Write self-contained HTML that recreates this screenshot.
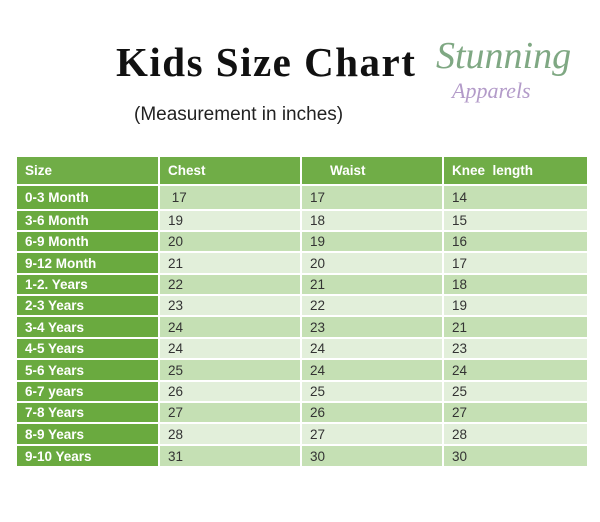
<!DOCTYPE html>
<html><head><style>
body{margin:0;width:600px;height:522px;background:#fff;position:relative;font-family:"Liberation Sans",sans-serif;overflow:hidden}
.t{position:absolute;left:116px;top:38px;font-family:"Liberation Serif",serif;font-size:41px;font-weight:bold;color:#111;letter-spacing:1.5px}
.s{position:absolute;left:134px;top:104px;font-size:19px;color:#222}
.l1{position:absolute;left:436px;top:34px;font-family:"Liberation Serif",serif;font-style:italic;font-size:38px;color:#7fa883}
.l2{position:absolute;left:452px;top:78px;font-family:"Liberation Serif",serif;font-style:italic;font-size:22px;color:#b39bc9}
.row{position:absolute;left:17px;width:570px;display:flex;font-size:13.5px;color:#333}
.row div{box-sizing:border-box;border-right:2px solid #fff;padding-left:8px;display:flex;align-items:center;height:100%}
.row div:nth-child(1){width:143px;background:#6aaa3f;color:#fff;font-weight:bold}
.row div:nth-child(2){width:142px}
.row div:nth-child(3){width:142px}
.row div:nth-child(4){width:143px;border-right:0}
.h div{background:#70ad47 !important;color:#fff;font-weight:bold}
.d div:not(:first-child){background:#c5e0b4}
.w div:not(:first-child){background:#e2efda}
</style></head><body>
<div class="t">Kids Size Chart</div>
<div class="s">(Measurement in inches)</div>
<div class="l1">Stunning</div>
<div class="l2">Apparels</div>

<div class="row h" style="top:157px;height:27px"><div>Size</div><div>Chest</div><div style="padding-left:28px">Waist</div><div>Knee&nbsp; length</div></div>
<div class="row d" style="top:186px;height:23px"><div>0-3 Month</div><div>&nbsp;17</div><div>17</div><div>14</div></div>
<div class="row w" style="top:211px;height:19px"><div>3-6 Month</div><div>19</div><div>18</div><div>15</div></div>
<div class="row d" style="top:232px;height:19px"><div>6-9 Month</div><div>20</div><div>19</div><div>16</div></div>
<div class="row w" style="top:253px;height:20px"><div>9-12 Month</div><div>21</div><div>20</div><div>17</div></div>
<div class="row d" style="top:275px;height:19px"><div>1-2. Years</div><div>22</div><div>21</div><div>18</div></div>
<div class="row w" style="top:296px;height:19px"><div>2-3 Years</div><div>23</div><div>22</div><div>19</div></div>
<div class="row d" style="top:317px;height:20px"><div>3-4 Years</div><div>24</div><div>23</div><div>21</div></div>
<div class="row w" style="top:339px;height:19px"><div>4-5 Years</div><div>24</div><div>24</div><div>23</div></div>
<div class="row d" style="top:360px;height:20px"><div>5-6 Years</div><div>25</div><div>24</div><div>24</div></div>
<div class="row w" style="top:382px;height:19px"><div>6-7 years</div><div>26</div><div>25</div><div>25</div></div>
<div class="row d" style="top:403px;height:19px"><div>7-8 Years</div><div>27</div><div>26</div><div>27</div></div>
<div class="row w" style="top:424px;height:20px"><div>8-9 Years</div><div>28</div><div>27</div><div>28</div></div>
<div class="row d" style="top:446px;height:20px"><div>9-10 Years</div><div>31</div><div>30</div><div>30</div></div>
</body></html>
